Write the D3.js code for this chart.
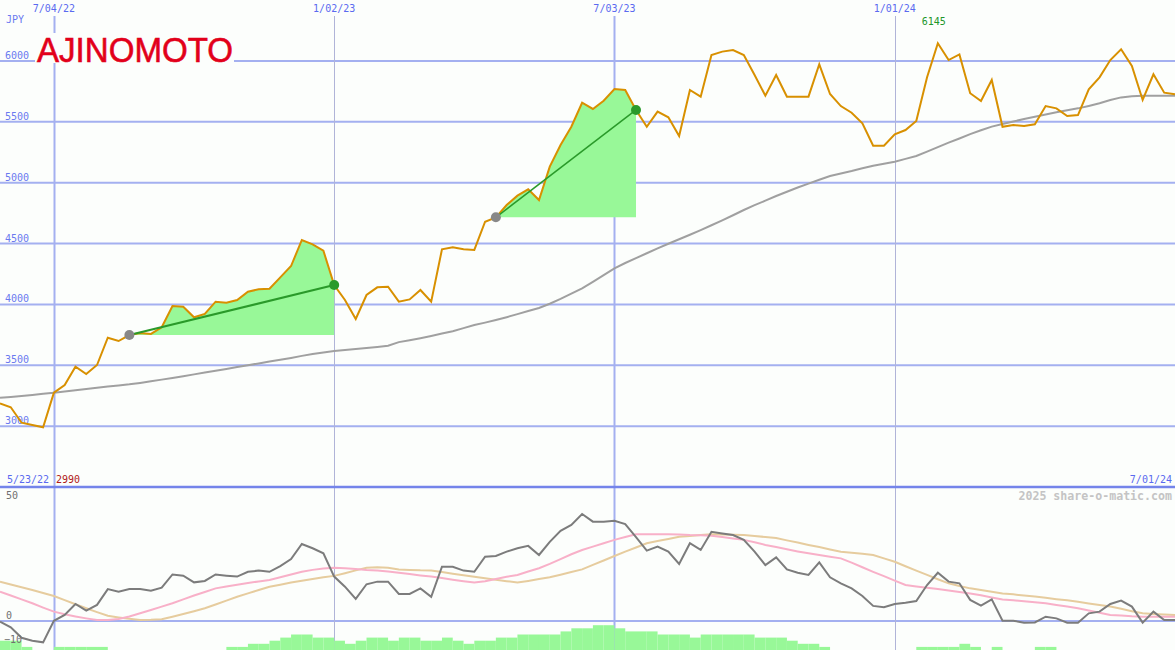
<!DOCTYPE html>
<html><head><meta charset="utf-8">
<script src="https://cdn.jsdelivr.net/npm/d3@7"></script>
<style>html,body{margin:0;padding:0;background:#fcfefc;overflow:hidden}svg{display:block}</style>
</head><body><svg id="c" width="1175" height="650"></svg>
<script>
// ---- data ----
const firstWeek = new Date(2022, 4, 30);
const lastWeek = new Date(2024, 6, 1);
const price = [
 3187, 3155, 3028, 3009, 2990, 3275, 3338, 3488, 3428, 3502,
 3726, 3699, 3748, 3765, 3757, 3812, 3987, 3981, 3894, 3921,
 4022, 4014, 4036, 4104, 4124, 4129, 4222, 4315, 4529, 4493,
 4441, 4159, 4036, 3880, 4077, 4140, 4145, 4022, 4041, 4118,
 4022, 4452, 4469, 4452, 4447, 4679, 4715, 4816, 4893, 4945,
 4857, 5131, 5309, 5459, 5656, 5605, 5673, 5769, 5761, 5597,
 5459, 5583, 5537, 5383, 5761, 5706, 6048, 6076, 6089, 6048,
 5884, 5714, 5884, 5706, 5706, 5706, 5972, 5728, 5629, 5574,
 5487, 5303, 5303, 5396, 5432, 5506, 5865, 6145, 6007, 6053,
 5734, 5670, 5843, 5459, 5473, 5465, 5479, 5629, 5610, 5547,
 5555, 5767, 5865, 6007, 6095, 5958, 5679, 5890, 5739, 5725
];
const movingAverage = [
 3233, 3240, 3248, 3256, 3265, 3275, 3285, 3295, 3305, 3315,
 3325, 3334, 3343, 3355, 3368, 3382, 3396, 3410, 3425, 3440,
 3455, 3470, 3485, 3500, 3515, 3530, 3545, 3560, 3577, 3592,
 3605, 3617, 3625, 3633, 3641, 3650, 3660, 3690, 3706, 3722,
 3740, 3760, 3780, 3805, 3830, 3850, 3872, 3895, 3920, 3945,
 3970, 4005, 4045, 4088, 4132, 4185, 4240, 4296, 4340, 4380,
 4420, 4460, 4498, 4535, 4572, 4610, 4650, 4690, 4732, 4775,
 4815, 4852, 4890, 4925, 4960, 4992, 5024, 5054, 5075, 5095,
 5118, 5139, 5155, 5172, 5195, 5219, 5255, 5292, 5328, 5362,
 5398, 5430, 5460, 5482, 5502, 5522, 5541, 5560, 5578, 5595,
 5610, 5630, 5652, 5678, 5700, 5710, 5713, 5714, 5714, 5714
];
const oscillator = [
 -0.3, -2.6, -7, -8.2, -8.9, 0.1, 2.5, 7.1, 4.3, 6.7,
 13.3, 12.2, 13.3, 13.3, 12.6, 13.9, 19.4, 18.9, 16.1, 16.7,
 19.4, 18.9, 18.5, 20.5, 21, 20.5, 22.9, 25.8, 32.1, 30.3,
 28.2, 18.5, 14.3, 9.2, 15.3, 16.4, 16.4, 11.3, 11.3, 13.6,
 10.1, 22.6, 22.6, 21, 20.5, 26.8, 27.1, 28.9, 30.3, 31.3,
 27.5, 33, 37.6, 40, 44.6, 41.4, 41.4, 41.8, 40.4, 34.9,
 29.3, 31, 28.9, 23.8, 32.4, 29.6, 37.2, 36.5, 35.8, 33.8,
 28.9, 23.3, 26.5, 21.5, 20.1, 19.2, 24.4, 18.2, 15.7, 13.6,
 10.4, 6.3, 5.7, 7.1, 7.6, 8.3, 15, 20.1, 16.4, 15.7,
 8.8, 6.4, 9, 0.1, 0.1, -0.7, -0.6, 1.8, 1.1, -0.7,
 -0.7, 3.2, 3.9, 7.1, 8.5, 6, -0.7, 3.9, 0.4, 0.4
];
const signalFast = [
 12.2, 10.6, 9.0, 7.4, 5.6, 3.9, 2.8, 1.9, 1.1, 0.4,
 0.4, 0.8, 1.9, 3.2, 4.6, 6.0, 7.4, 9.0, 10.6, 12.1,
 13.6, 14.4, 15.1, 15.8, 16.5, 17.1, 18.2, 19.4, 20.5, 21.3,
 21.9, 22.2, 22.0, 21.7, 21.3, 21.0, 20.6, 20.1, 19.6, 19.0,
 18.5, 17.9, 17.2, 16.6, 16.0, 16.6, 17.5, 18.4, 19.2, 20.6,
 22.0, 23.8, 25.8, 27.8, 29.6, 31.0, 32.4, 33.8, 35.0, 36.1,
 36.1, 36.1, 36.1, 36.0, 35.8, 35.7, 35.5, 35.0, 34.4, 33.8,
 32.8, 31.7, 30.8, 29.9, 29.0, 28.2, 27.5, 26.8, 26.1, 24.3,
 22.4, 20.5, 18.7, 16.8, 15.0, 14.4, 13.9, 13.3, 12.7, 12.1,
 11.5, 10.7, 9.8, 9.0, 8.6, 8.2, 7.8, 7.4, 6.7, 6.0,
 5.3, 4.4, 3.4, 2.5, 2.3, 2.0, 1.8, 1.8, 1.8, 1.8
];
const signalSlow = [
 16.4, 15.2, 14.1, 12.9, 11.7, 10.4, 8.7, 7.0, 5.3, 3.7,
 2.2, 1.5, 0.9, 0.4, 0.5, 0.7, 1.8, 2.9, 4.1, 5.3,
 6.9, 8.5, 10.1, 11.5, 12.9, 14.3, 15.1, 16.0, 16.8, 17.5,
 18.2, 18.8, 19.9, 21.1, 22.2, 22.4, 22.2, 21.5, 21.3, 21.1,
 21.0, 20.4, 19.7, 19.1, 18.4, 17.8, 17.2, 16.6, 16.0, 16.7,
 17.5, 18.2, 19.3, 20.4, 21.5, 23.4, 25.2, 27.1, 28.9, 30.6,
 32.4, 33.3, 34.2, 35.1, 35.4, 35.8, 36.1, 36.0, 35.9, 35.8,
 35.4, 35.0, 34.6, 33.6, 32.7, 31.7, 30.8, 29.8, 28.9, 28.4,
 28.0, 27.5, 26.1, 24.7, 22.8, 21.0, 19.2, 17.4, 15.7, 14.6,
 13.6, 12.9, 12.2, 11.5, 11.1, 10.6, 10.2, 9.7, 9.1, 8.6,
 8.0, 7.3, 6.7, 6.0, 5.1, 4.1, 3.2, 2.9, 2.7, 2.5
];
const volume = [
 3, 3, 1, 0, 0, 1, 1, 1, 1, 1,
 0, 0, 0, 0, 0, 0, 0, 0, 0, 0,
 0, 1, 1, 2, 2, 3, 4, 5, 5, 4,
 4, 3, 2, 3, 4, 4, 3, 4, 4, 3,
 3, 4, 3, 2, 3, 3, 4, 4, 5, 5,
 5, 5, 6, 7, 7, 8, 8, 7, 6, 6,
 6, 5, 5, 5, 4, 5, 5, 5, 5, 5,
 4, 4, 4, 3, 2, 2, 1, 0, 0, 0,
 0, 0, 0, 0, 0, 1, 1, 1, 1, 2,
 1, 0, 1, 0, 0, 0, 1, 1, 0, 0,
 0, 0, 0, 0, 0, 0, 0, 0, 0, 0
];
const priceTicks = [3000, 3500, 4000, 4500, 5000, 5500, 6000];
const oscTicks = [50, 0, -10];
const dateTicks = ["2022-07-04", "2023-01-02", "2023-07-03", "2024-01-01"];
const dateTickLabels = ["7/04/22", "1/02/23", "7/03/23", "1/01/24"];
const trendStarts = ["2022-08-22", "2023-04-17"];
const trendEnds = ["2023-01-02", "2023-07-17"];
const minLabel = "2990", maxLabel = "6145";
const startLabel = "5/23/22", endLabel = "7/01/24";

// ---- chart ----
const parse = d3.timeParse("%Y-%m-%d");
const weeks = d3.timeMonday.range(firstWeek, d3.timeDay.offset(lastWeek, 1));
const rows = weeks.map((d, i) => ({d, p: price[i], ma: movingAverage[i], o: oscillator[i], f: signalFast[i], s: signalSlow[i], v: volume[i]}));

const W = 1175, H = 650;
const x = d3.scaleTime().domain([firstWeek, lastWeek]).range([0, W]);
const y = d3.scaleLinear().domain([2500, 6500]).range([487, 0]);
const yo = d3.scaleLinear().domain([0, 50]).range([621, 501]);
const yv = d3.scaleLinear().domain([0, 10]).range([650, 619]);

const svg = d3.select("#c");
svg.append("rect").attr("width", W).attr("height", H).attr("fill", "#fcfefc");

const mono = "'DejaVu Sans Mono', monospace";
const gridCol = "#a4b0f0";
const fillGreen = "#98f898";

// horizontal grid
svg.append("g").selectAll("line").data(priceTicks).join("line")
  .attr("x1", 0).attr("x2", W).attr("y1", d => y(d)).attr("y2", d => y(d))
  .attr("stroke", gridCol).attr("stroke-width", 2);
// zero line of lower panel
svg.append("line").attr("x1", 0).attr("x2", W).attr("y1", yo(0)).attr("y2", yo(0))
  .attr("stroke", gridCol).attr("stroke-width", 2);

// vertical grid
const dt = dateTicks.map(parse);
svg.append("g").selectAll("line").data(dt).join("line")
  .attr("x1", d => Math.round(x(d)) + 0.5).attr("x2", d => Math.round(x(d)) + 0.5)
  .attr("y1", 16).attr("y2", H)
  .attr("stroke", (d, i) => i % 2 === 0 ? "#a4b0f0" : "#b0b4d8")
  .attr("stroke-width", (d, i) => i % 2 === 0 ? 2 : 1);

// date tick labels
svg.append("g").selectAll("text").data(dt).join("text")
  .attr("x", d => x(d)).attr("y", 12).attr("text-anchor", "middle")
  .attr("font-family", mono).attr("font-size", 10).attr("fill", "#5a6af0")
  .text((d, i) => dateTickLabels[i]);

// price labels
svg.append("text").attr("x", 6).attr("y", 23).attr("font-family", mono).attr("font-size", 10)
  .attr("fill", "#6a7af0").text("JPY");
svg.append("g").selectAll("text").data(priceTicks).join("text")
  .attr("x", 5).attr("y", d => y(d) - 2)
  .attr("font-family", mono).attr("font-size", 10).attr("fill", "#6a7af0")
  .text(d => d);

// logo
svg.append("rect").attr("x", 35).attr("y", 33).attr("width", 199).attr("height", 30).attr("fill", "#fcfefc");
svg.append("text").attr("x", 37).attr("y", 61.5)
  .attr("font-family", "'Liberation Sans', Arial, sans-serif").attr("font-size", 35)
  .attr("stroke", "#e2001a").attr("stroke-width", 0.6)
  .attr("textLength", 196).attr("lengthAdjust", "spacingAndGlyphs")
  .attr("fill", "#e2001a").text("AJINOMOTO");

// trend areas
const idx = s => weeks.findIndex(w => +w === +parse(s));
trendStarts.forEach((s, k) => {
  const a = idx(s), b = idx(trendEnds[k]);
  const seg = rows.slice(a, b + 1);
  const base = rows[a].p;
  svg.append("path").datum(seg)
    .attr("d", d3.area().x(d => x(d.d)).y0(y(base)).y1(d => y(Math.max(d.p, base))))
    .attr("fill", fillGreen);
});

// moving average
svg.append("path").datum(rows)
  .attr("d", d3.line().x(d => x(d.d)).y(d => y(d.ma)))
  .attr("fill", "none").attr("stroke", "#a0a0a0").attr("stroke-width", 2);

// price line
svg.append("path").datum(rows)
  .attr("d", d3.line().x(d => x(d.d)).y(d => y(d.p)))
  .attr("fill", "none").attr("stroke", "#d89000").attr("stroke-width", 2);

// trend lines & dots
trendStarts.forEach((s, k) => {
  const a = rows[idx(s)], b = rows[idx(trendEnds[k])];
  svg.append("line").attr("x1", x(a.d)).attr("y1", y(a.p)).attr("x2", x(b.d)).attr("y2", y(b.p))
    .attr("stroke", "#2a9a2a").attr("stroke-width", k === 0 ? 2 : 1.5);
  svg.append("circle").attr("cx", x(a.d)).attr("cy", y(a.p)).attr("r", 5).attr("fill", "#888888");
  svg.append("circle").attr("cx", x(b.d)).attr("cy", y(b.p)).attr("r", 5).attr("fill", "#2a9a2a");
});

// max label
const maxRow = rows.reduce((m, r) => r.p > m.p ? r : m, rows[0]);
svg.append("text").attr("x", x(maxRow.d) - 4).attr("y", 25).attr("text-anchor", "middle")
  .attr("font-family", mono).attr("font-size", 10).attr("fill", "#20962a").text(maxLabel);

// lower panel: volume bars
svg.append("g").selectAll("rect").data(rows.filter(r => r.v > 0)).join("rect")
  .attr("x", d => x(d.d)).attr("width", d => x(d3.timeWeek.offset(d.d, 1)) - x(d.d))
  .attr("y", d => yv(d.v)).attr("height", d => yv(0) - yv(d.v))
  .attr("fill", fillGreen);

// separator
svg.append("line").attr("x1", 0).attr("x2", W).attr("y1", 487).attr("y2", 487)
  .attr("stroke", "#7484ea").attr("stroke-width", 2.5);

// oscillator lines
const lo = key => d3.line().x(d => x(d.d)).y(d => yo(d[key]));
svg.append("path").datum(rows).attr("d", lo("s")).attr("fill", "none").attr("stroke", "#e6cc9e").attr("stroke-width", 2);
svg.append("path").datum(rows).attr("d", lo("f")).attr("fill", "none").attr("stroke", "#f8b0c8").attr("stroke-width", 2);
svg.append("path").datum(rows).attr("d", lo("o")).attr("fill", "none").attr("stroke", "#7c7c7c").attr("stroke-width", 2);

// oscillator labels
svg.append("g").selectAll("text").data(oscTicks).join("text")
  .attr("x", d => d < 0 ? 4 : 6).attr("y", d => yo(d) - 2)
  .attr("font-family", mono).attr("font-size", 10).attr("fill", "#707070")
  .text(d => d < 0 ? "\u2212" + Math.abs(d) : d);

// bottom info labels
svg.append("text").attr("x", 7).attr("y", 483).attr("font-family", mono).attr("font-size", 10)
  .attr("fill", "#5a6af0").text(startLabel);
svg.append("text").attr("x", 56).attr("y", 483).attr("font-family", mono).attr("font-size", 10)
  .attr("fill", "#b01818").text(minLabel);
svg.append("text").attr("x", 1172).attr("y", 483).attr("text-anchor", "end").attr("font-family", mono)
  .attr("font-size", 10).attr("fill", "#5a6af0").text(endLabel);
svg.append("text").attr("x", 1172).attr("y", 500).attr("text-anchor", "end").attr("font-family", mono)
  .attr("font-size", 11.6).attr("font-weight", "bold").attr("fill", "#c4c4c4").text("2025 share-o-matic.com");
</script>
</body></html>
